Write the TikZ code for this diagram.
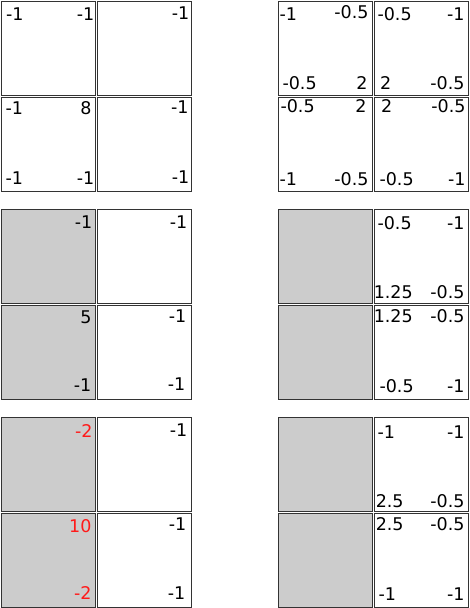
\documentclass[tikz,border=0pt]{standalone}
\usepackage{fontspec}
\setmainfont{DejaVu Sans}
\definecolor{edge}{HTML}{333333}
\definecolor{shade}{HTML}{CCCCCC}
\definecolor{hot}{HTML}{FF1A1A}
\begin{document}
\begin{tikzpicture}[x=1pt,y=-1pt,
  cell/.style={draw=edge,line width=1pt,fill=white},
  dark/.style={draw=edge,line width=1pt,fill=shade},
  lab/.style={inner sep=0pt,outer sep=0pt,font=\fontsize{17.5}{20}\selectfont,text=black},
  lw/.style={lab,anchor=base west},
  le/.style={lab,anchor=base east},
  redlab/.style={text=hot}]
\useasboundingbox (0,0) rectangle (469,608);
% columns 1,97,278,374 ; rows 1,97,209,305,417,513 ; size 94
% top-left group
\draw[cell] (1,1) rectangle ++(94,94);
\draw[cell] (97,1) rectangle ++(94,94);
\draw[cell] (1,97) rectangle ++(94,94);
\draw[cell] (97,97) rectangle ++(94,94);
% top-right group
\draw[cell] (278,1) rectangle ++(94,94);
\draw[cell] (374,1) rectangle ++(94,94);
\draw[cell] (278,97) rectangle ++(94,94);
\draw[cell] (374,97) rectangle ++(94,94);
% middle-left
\draw[dark] (1,209) rectangle ++(94,94);
\draw[cell] (97,209) rectangle ++(94,94);
\draw[dark] (1,305) rectangle ++(94,94);
\draw[cell] (97,305) rectangle ++(94,94);
% middle-right
\draw[dark] (278,209) rectangle ++(94,94);
\draw[cell] (374,209) rectangle ++(94,94);
\draw[dark] (278,305) rectangle ++(94,94);
\draw[cell] (374,305) rectangle ++(94,94);
% bottom-left
\draw[dark] (1,417) rectangle ++(94,94);
\draw[cell] (97,417) rectangle ++(94,94);
\draw[dark] (1,513) rectangle ++(94,94);
\draw[cell] (97,513) rectangle ++(94,94);
% bottom-right
\draw[dark] (278,417) rectangle ++(94,94);
\draw[cell] (374,417) rectangle ++(94,94);
\draw[dark] (278,513) rectangle ++(94,94);
\draw[cell] (374,513) rectangle ++(94,94);

% ---- labels: top-left group
\node[lw] (a1tl) at (6,20) {-1};
\node[le] (a1tr) at (94.3,20) {-1};
\node[le] (b1tr) at (189.3,19.5) {-1};
\node[lw] (a2tl) at (5.5,114) {-1};
\node[le] (a2tr) at (91.6,114) {8};
\node[lw] (a2bl) at (5.5,184) {-1};
\node[le] (a2br) at (94.3,184) {-1};
\node[le] (b2tr) at (188.5,113) {-1};
\node[le] (b2br) at (189.3,183.5) {-1};
% ---- top-right group
\node[lw] (c1tl) at (279.5,20) {-1};
\node[le] (c1tr) at (368.5,18) {-0.5};
\node[lw] (c1bl) at (282.5,89) {-0.5};
\node[le] (c1br) at (367.5,89) {2};
\node[lw] (d1tl) at (377.5,20) {-0.5};
\node[le] (d1tr) at (464.5,20) {-1};
\node[lw] (d1bl) at (380,89) {2};
\node[le] (d1br) at (464.5,89) {-0.5};
\node[lw] (c2tl) at (280.5,112) {-0.5};
\node[le] (c2tr) at (366.5,112) {2};
\node[lw] (c2bl) at (279.5,185) {-1};
\node[le] (c2br) at (368.5,185) {-0.5};
\node[lw] (d2tl) at (381,112) {2};
\node[le] (d2tr) at (465.5,112) {-0.5};
\node[lw] (d2bl) at (379.5,185) {-0.5};
\node[le] (d2br) at (465.5,185) {-1};
% ---- middle-left
\node[le] (a3tr) at (92.3,228) {-1};
\node[le] (b3tr) at (187.3,228) {-1};
\node[le] (a4tr) at (91.4,323) {5};
\node[le] (a4br) at (91.3,391) {-1};
\node[le] (b4tr) at (186.3,322) {-1};
\node[le] (b4br) at (185.3,390) {-1};
% ---- middle-right
\node[lw] (d3tl) at (377.5,229) {-0.5};
\node[le] (d3tr) at (464.5,229) {-1};
\node[lw] (d3bl) at (373.8,298) {1.25};
\node[le] (d3br) at (464.5,298) {-0.5};
\node[lw] (d4tl) at (373.8,322) {1.25};
\node[le] (d4tr) at (464.5,322) {-0.5};
\node[lw] (d4bl) at (379.5,392) {-0.5};
\node[le] (d4br) at (464.5,392) {-1};
% ---- bottom-left
\node[le,redlab] (a5tr) at (92.5,437) {-2};
\node[le] (b5tr) at (187.3,436) {-1};
\node[le,redlab] (a6tr) at (91.5,532) {10};
\node[le,redlab] (a6br) at (91.5,599) {-2};
\node[le] (b6tr) at (186.3,530) {-1};
\node[le] (b6br) at (185.3,599) {-1};
% ---- bottom-right
\node[lw] (d5tl) at (377.5,438) {-1};
\node[le] (d5tr) at (464.5,438) {-1};
\node[lw] (d5bl) at (375.8,507) {2.5};
\node[le] (d5br) at (464.5,507) {-0.5};
\node[lw] (d6tl) at (375.8,530) {2.5};
\node[le] (d6tr) at (464.5,530) {-0.5};
\node[lw] (d6bl) at (378.5,600) {-1};
\node[le] (d6br) at (464.5,600) {-1};
\end{tikzpicture}
\end{document}
